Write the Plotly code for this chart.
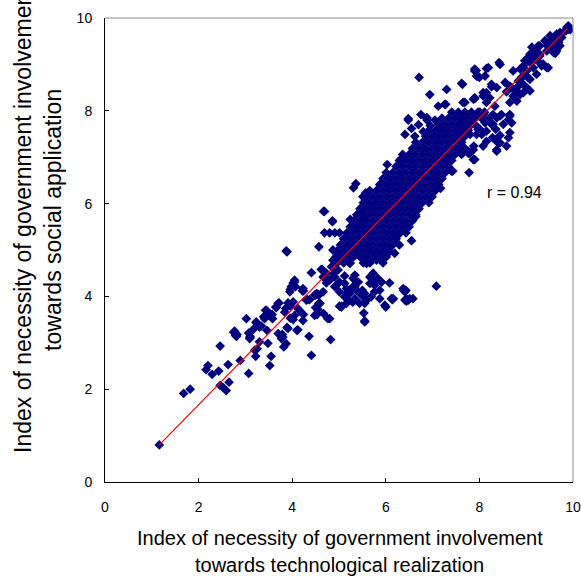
import plotly.graph_objects as go

# ---- scattered (non-core) points ----
scatter_pts = [
    (1.16,0.80),(1.68,1.91),(1.82,2.00),(2.46,2.08),(2.59,1.97),(2.65,2.15),(2.52,2.04),
    (2.20,2.51),(2.16,2.42),(2.29,2.32),(2.43,2.39),(2.63,2.53),(2.46,2.93),
    (3.07,2.34),(2.89,2.62),(3.22,2.71),(3.25,2.87),(3.20,2.84),(3.52,2.51),(3.55,2.71),
    (2.75,3.23),(2.82,3.18),(2.79,3.16),(3.02,3.52),(3.07,3.21),(3.10,3.11),(3.09,3.09),
    (3.23,3.43),(3.30,3.34),(3.41,3.52),(3.46,3.27),(3.30,3.02),(3.48,2.99),
    (3.43,3.70),(3.52,3.59),(3.65,3.77),(3.57,3.61),(3.70,3.20),
    (3.70,3.85),(3.86,3.74),(3.77,3.09),(3.79,3.18),(3.82,2.91),(3.89,3.33),(4.10,3.27),
    (3.96,3.53),(4.02,3.50),(4.05,3.59),(3.91,3.86),(3.96,3.79),(4.02,3.88),(4.12,3.74),
    (4.16,3.69),(4.24,3.61),(4.23,3.48),(4.36,3.14),(4.41,2.73),(4.48,3.59),(4.53,3.61),
    (4.67,3.63),(4.33,3.93),(4.50,4.03),(4.57,3.85),(4.82,3.07),(4.80,3.52),
    (4.02,4.29),(4.07,4.21),(3.96,4.15),(4.05,4.35),(4.24,4.12),(3.87,4.98),(4.41,4.51),
    (4.57,5.07),(4.62,4.58),(4.66,4.42),(4.73,4.29),(4.76,4.35),(4.89,4.50),(4.94,4.24),
    (4.52,4.06),(4.57,4.03),(5.05,3.77),(5.16,4.06),(5.29,3.88),(5.34,4.21),(5.50,4.13),
    (5.55,3.85),(5.53,3.64),(5.55,3.47),
    (3.72,3.86),(3.66,3.76),(3.84,3.66),(3.45,3.70),(3.39,3.56),(3.58,3.52),
    (3.23,3.45),(3.34,3.36),(3.17,3.29),(2.77,3.25),(2.81,3.14),(3.10,3.14),
    (3.91,3.31),(4.12,3.28),(3.80,3.12),(3.87,2.98),(4.37,3.93),(4.55,4.05),(4.59,3.85),
    (4.22,4.12),(4.50,3.76),(4.55,3.72),(4.76,3.52),(5.01,3.79),
    (4.84,4.39),(4.91,4.21),(5.01,4.10),(5.12,4.28),(5.30,3.88),(5.19,3.92),(5.37,4.13),
    (5.27,4.17),(5.34,4.35),(5.12,4.44),
    (4.69,5.37),(4.80,5.37),(4.91,5.37),(5.01,5.37),(4.86,5.61),(4.69,5.83),(5.24,5.66),
    (3.89,4.96),(4.05,4.31),(3.98,4.21),(3.95,4.10),
    (6.08,4.29),(6.43,4.13),(6.41,3.92),(6.16,3.95),(6.00,3.77),(5.55,3.45),
    (7.08,4.22),(6.55,5.20),(6.64,5.72),
    (5.87,4.13),(5.76,4.24),(5.69,4.39),(5.80,4.35),(5.73,4.50),(5.66,4.28),(5.55,4.06),
    (5.59,3.92),(5.48,4.03),(5.80,4.78),(5.87,4.89),(5.76,4.93),(5.59,4.71),(5.55,4.85),
    (5.62,5.00),(6.08,4.96),(6.19,4.93),(6.05,5.07),(6.30,5.36),(6.37,5.54),
    (6.38,4.13),(6.44,3.90),(6.51,3.95),(6.14,3.93),
    (4.87,5.00),(4.94,4.86),(5.05,4.89),(5.16,4.96),(5.09,4.78),(5.23,4.71),(4.87,4.78),
    (4.84,4.64),(4.73,4.50),(4.98,4.57),(4.91,4.42),(4.80,4.35),(5.01,4.31),
    (5.30,4.39),(5.34,4.46),(5.41,4.31),(5.30,4.21),(5.16,4.17),(5.23,4.06),(5.12,3.99),
    (5.34,3.95),(5.44,3.85),(5.51,4.03),(5.59,3.92),(5.69,3.99),(5.66,4.42),(5.73,4.28),
    (5.83,4.39),(5.91,4.31),(5.76,4.10),(5.87,3.95),(5.98,3.81),(6.12,3.95),(6.37,4.17),
    (6.41,4.10),(6.44,3.95),(6.48,3.92),(6.58,3.95),(5.16,3.85),(5.05,3.79),(4.66,4.10),
    (4.48,4.03),(4.30,3.92),(4.23,4.17),(4.59,3.85),
    (5.36,6.43),(5.31,6.34),(4.67,5.83),(4.86,5.63),(5.51,6.15),(5.57,6.23),(5.69,5.94),
    (5.48,5.83),(5.55,5.72),(4.64,4.58),
    (6.03,6.84),(6.41,7.49),(6.48,7.80),(6.88,7.80),(6.48,7.83),(6.71,8.72),(6.94,8.35),
    (7.30,8.46),(7.62,8.59),(7.12,8.10),(7.28,8.14),(6.88,7.85),(7.26,8.14),(6.87,7.85),
    (6.55,7.62),(6.70,7.70),(6.62,7.45),(6.80,7.55),(6.95,7.68),(7.05,7.80),(6.75,7.92),
    (7.78,6.67),(7.40,6.70),(7.17,6.33),(7.87,6.95),(7.76,7.09),(7.43,6.70),(7.78,7.09),
    (7.90,6.95),
    (7.65,8.18),(7.87,8.25),(7.90,8.90),(7.97,8.75),(8.08,8.32),(8.15,8.39),(8.01,7.97),
    (8.12,7.74),(7.94,7.67),(7.69,7.92),(7.62,7.78),(7.73,7.67),(7.58,7.49),
    (8.42,9.04),(8.15,8.91),(7.93,8.87),(8.00,8.72),(7.90,8.26),
    (8.08,8.39),(8.26,8.52),(8.22,8.28),(8.33,8.10),(8.44,7.89),(8.26,7.71),(8.51,7.71),
    (8.62,7.81),(8.65,7.89),(8.44,7.47),(8.40,7.31),(8.28,7.42),(8.37,7.13),(8.62,7.42),
    (8.58,7.24),(8.15,7.34),(8.01,7.60),(7.94,7.49),(7.88,7.24),(7.80,7.09),(7.67,7.89),
    (7.80,7.71),(7.15,7.63),(7.07,7.31),
    (9.08,9.22),(9.19,9.29),(9.29,9.40),(9.40,9.51),(9.51,9.62),(9.58,9.58),(9.65,9.65),
    (9.69,9.47),(9.54,9.40),(9.44,9.29),(9.29,9.18),(9.19,9.11),(9.08,9.04),(8.94,8.97),
    (9.01,8.86),(9.15,8.93),(9.22,8.79),(9.33,8.97),(9.47,8.93),(9.58,9.26),(9.72,9.40),
    (9.76,9.58),(9.87,9.80),(9.90,9.76),(9.79,9.69),
    (8.90,8.72),(8.83,8.64),(9.08,8.68),(8.97,8.53),(8.80,8.43),(8.72,8.32),(8.87,8.35),
    (8.69,8.50),(9.90,9.83),(9.94,9.75),(9.85,9.72),(9.72,9.69),(9.65,9.62),(9.58,9.55),
    (9.51,9.51),(9.45,9.40),(9.54,9.37),(9.62,9.45),
    (9.26,9.40),(9.19,9.33),(9.12,9.37),(9.29,9.22),(9.15,9.18),(9.04,9.15),(8.97,9.08),
    (9.24,9.08),(9.36,9.01),(9.44,8.93),(9.62,9.24),(9.65,9.29),
    (8.72,8.86),(8.87,8.90),(8.94,8.75),(9.04,8.72),(8.90,8.61),(8.83,8.53),(9.01,8.50),
    (9.08,8.43),(8.94,8.39),(8.80,8.21),(8.65,8.18),(8.58,8.41),(8.65,8.53),(8.55,8.61),
    (8.44,9.00),(8.19,8.93),(8.12,8.75),(7.90,8.86),(7.94,8.75),(8.26,8.57),(8.37,8.50),
    (7.64,8.57),(7.90,8.28),(8.12,8.35),(8.15,8.18),(7.69,8.18),(7.65,7.89),(7.83,7.71),
    (8.08,7.92),(8.22,7.85),(8.29,7.92),(8.37,7.85),(8.47,7.92),(8.65,7.92),(8.69,7.74),
    (8.65,7.53),(8.29,7.71),(8.35,7.60),(8.33,7.38),(8.44,7.31),(8.15,7.56),(8.05,7.49),
    (7.97,7.60),(7.80,7.49),(7.65,7.63),(8.08,7.24),(8.37,7.16),(7.76,7.13),(7.87,7.16),
]

# ---- dense core, row by row (y level, x values) ----
core_y_levels = [4.72, 4.85, 4.98, 5.11, 5.24, 5.37, 5.50, 5.63, 5.76, 5.89, 6.02, 6.15,
                 6.28, 6.41, 6.54, 6.67, 6.80, 6.93, 7.06, 7.19, 7.32, 7.45, 7.58, 7.71,
                 7.84, 7.97]
core_x_rows = [
    [4.96, 5.10, 5.24, 5.52, 5.66, 5.94],
    [5.03, 5.17, 5.31, 5.45, 5.59, 5.73, 5.87, 6.01],
    [4.96, 5.10, 5.24, 5.38, 5.52, 5.66, 5.80, 5.94, 6.08],
    [5.03, 5.17, 5.31, 5.45, 5.59, 5.73, 5.87, 6.01, 6.15, 6.29],
    [5.10, 5.24, 5.38, 5.52, 5.66, 5.80, 5.94, 6.08, 6.22],
    [5.17, 5.31, 5.45, 5.59, 5.73, 5.87, 6.01, 6.15, 6.29, 6.43],
    [5.24, 5.38, 5.52, 5.66, 5.80, 5.94, 6.08, 6.22, 6.36, 6.50],
    [5.31, 5.45, 5.59, 5.73, 5.87, 6.01, 6.15, 6.29, 6.43, 6.57],
    [5.38, 5.52, 5.66, 5.80, 5.94, 6.08, 6.22, 6.36, 6.50, 6.64],
    [5.45, 5.59, 5.73, 5.87, 6.01, 6.15, 6.29, 6.43, 6.57, 6.71],
    [5.52, 5.66, 5.80, 5.94, 6.08, 6.22, 6.36, 6.50, 6.64, 6.78, 6.92],
    [5.59, 5.73, 5.87, 6.01, 6.15, 6.29, 6.43, 6.57, 6.71, 6.85, 6.99],
    [5.66, 5.80, 5.94, 6.08, 6.22, 6.36, 6.50, 6.64, 6.78, 6.92, 7.06],
    [5.87, 6.01, 6.15, 6.29, 6.43, 6.57, 6.71, 6.85, 6.99, 7.13],
    [5.94, 6.08, 6.22, 6.36, 6.50, 6.64, 6.78, 6.92, 7.06, 7.20],
    [6.01, 6.15, 6.29, 6.43, 6.57, 6.71, 6.85, 6.99, 7.13, 7.27],
    [6.22, 6.36, 6.50, 6.64, 6.78, 6.92, 7.06, 7.20, 7.34],
    [6.29, 6.43, 6.57, 6.71, 6.85, 6.99, 7.13, 7.27, 7.41],
    [6.36, 6.50, 6.64, 6.78, 6.92, 7.06, 7.20, 7.34, 7.48, 7.62],
    [6.57, 6.71, 6.85, 6.99, 7.13, 7.27, 7.41, 7.55, 7.69],
    [6.64, 6.78, 6.92, 7.06, 7.20, 7.34, 7.48, 7.62],
    [6.85, 6.99, 7.13, 7.27, 7.41, 7.55, 7.69],
    [6.92, 7.06, 7.20, 7.34, 7.48, 7.62, 7.76],
    [7.13, 7.27, 7.41, 7.55, 7.69, 7.83],
    [7.20, 7.34, 7.48, 7.62, 7.76, 7.90, 8.04],
    [7.41, 7.55, 7.69, 7.83, 7.97, 8.11],
]

# ---- regression line end points ----
fit_x = [1.15, 9.87]
fit_y = [0.79, 9.76]

tick_vals = [0, 2, 4, 6, 8, 10]
r_label = "r = 0.94"
r_pos = (8.76, 6.23)

x_title = ["Index of necessity of government involvement", "towards technological realization"]
y_title = ["Index of necessity of government involvement", "towards social application"]

xs = [p[0] for p in scatter_pts]
ys = [p[1] for p in scatter_pts]
for yl, row in zip(core_y_levels, core_x_rows):
    for xv in row:
        xs.append(xv)
        ys.append(yl)

FONT = "Arial, Liberation Sans, sans-serif"
NAVY = "#000080"

fig = go.Figure()
fig.add_trace(go.Scatter(x=xs, y=ys, mode="markers",
                         marker=dict(symbol="diamond", size=7.5, color=NAVY,
                                     line=dict(width=0)),
                         showlegend=False, hoverinfo="skip"))
fig.add_trace(go.Scatter(x=fit_x, y=fit_y, mode="lines",
                         line=dict(color="#ff0000", width=1.2),
                         showlegend=False, hoverinfo="skip"))

axis_common = dict(range=[0, 10], tickvals=tick_vals, ticks="inside", ticklen=4,
                   tickcolor="black", showline=True, linecolor="black", linewidth=1,
                   showgrid=False, zeroline=False, mirror=False, automargin=False,
                   tickfont=dict(family=FONT, size=14, color="black"))
fig.update_xaxes(**axis_common, ticklabelstandoff=12)
fig.update_yaxes(**axis_common, ticklabelstandoff=9)

# gray frame on top and right of plot area
fig.add_shape(type="line", xref="paper", yref="paper", x0=0, x1=1, y0=1, y1=1,
              line=dict(color="#8c8c8c", width=1))
fig.add_shape(type="line", xref="paper", yref="paper", x0=1, x1=1, y0=0, y1=1,
              line=dict(color="#8c8c8c", width=1))

ann = []
ann.append(dict(x=r_pos[0], y=r_pos[1], xref="x", yref="y", text=r_label,
                showarrow=False, xanchor="center", yanchor="middle",
                font=dict(family=FONT, size=16, color="black")))
# x axis title (two lines)
ann.append(dict(x=0.502, y=-0.121, xref="paper", yref="paper", text=x_title[0],
                showarrow=False, xanchor="center", yanchor="middle",
                font=dict(family=FONT, size=20, color="black")))
ann.append(dict(x=0.502, y=-0.179, xref="paper", yref="paper", text=x_title[1],
                showarrow=False, xanchor="center", yanchor="middle",
                font=dict(family=FONT, size=20, color="black")))
# y axis title (two lines)
ann.append(dict(x=-0.175, y=0.565, xref="paper", yref="paper", text=y_title[0],
                textangle=-90, showarrow=False, xanchor="center", yanchor="middle",
                font=dict(family=FONT, size=23, color="black")))
ann.append(dict(x=-0.111, y=0.565, xref="paper", yref="paper", text=y_title[1],
                textangle=-90, showarrow=False, xanchor="center", yanchor="middle",
                font=dict(family=FONT, size=23, color="black")))

fig.update_layout(width=581, height=576, margin=dict(l=105, r=8, t=18, b=94),
                  paper_bgcolor="white", plot_bgcolor="white",
                  annotations=ann)

fig.write_html("out.html")
